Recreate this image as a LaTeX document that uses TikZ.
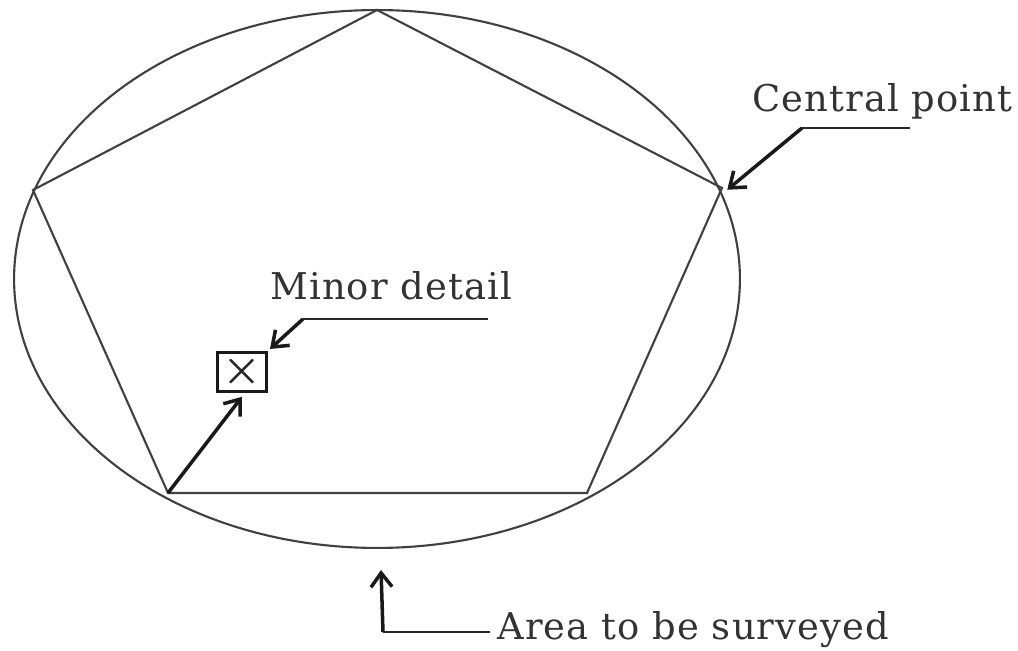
\documentclass[tikz,border=0pt]{standalone}
\usepackage{fontspec}
\setmainfont{DejaVu Serif}[LetterSpace=3]
\usetikzlibrary{arrows.meta, positioning}

\begin{document}
\begin{tikzpicture}[x=0.02cm, y=-0.02cm,
  outline/.style={line width=1.2pt, draw=black!75},
  leader/.style={line width=1.5pt, draw=black!85},
  pointer/.style={line width=2pt, draw=black!90, -{Straight Barb[length=8pt, width=12pt]}},
  note/.style={font=\fontsize{21}{24}\selectfont, text=black!80, inner sep=0pt, anchor=base west}]
  \useasboundingbox (0,0) rectangle (1018,651);

  % area to be surveyed
  \draw[outline] (377,279) ellipse [x radius=7.26cm, y radius=5.38cm];

  % control polygon
  \coordinate (top) at (377,10);
  \coordinate (right) at (722,188);
  \coordinate (lowright) at (587,493);
  \coordinate (lowleft) at (168,493);
  \coordinate (left) at (33,190);
  \draw[outline] (top) -- (right) -- (lowright) -- (lowleft) -- (left) -- cycle;

  % minor detail
  \node[draw=black!90, line width=2pt, minimum width=0.98cm, minimum height=0.78cm,
        inner sep=0pt, font=\boldmath\fontsize{24}{24}\selectfont, text=black!85] (detail) at (242,372) {$\times$};
  \draw[pointer] (lowleft) -- ([yshift=-2pt]detail.south);

  % labels
  \node[note] (central) at (752,112) {Central point};
  \node[note] (minor) at (270,300) {Minor detail};
  \node[note] (area) at (497,640) {Area to be surveyed};

  % leaders
  \coordinate (cknee) at (802,128);
  \coordinate (cend) at (910,128);
  \draw[leader] (cend) -- (cknee);
  \draw[pointer] (cknee) -- ([xshift=3pt,yshift=-1pt]right);

  \coordinate (mknee) at (303,319);
  \coordinate (mend) at (488,319);
  \draw[leader] (mend) -- (mknee);
  \draw[pointer] (mknee) -- ([xshift=1pt,yshift=1pt]detail.north east);

  \coordinate (aknee) at (383,632);
  \coordinate (aend) at (490,632);
  \coordinate (atip) at (381,570);
  \draw[leader] (aend) -- (aknee);
  \draw[pointer] (aknee) -- (atip);
\end{tikzpicture}
\end{document}
